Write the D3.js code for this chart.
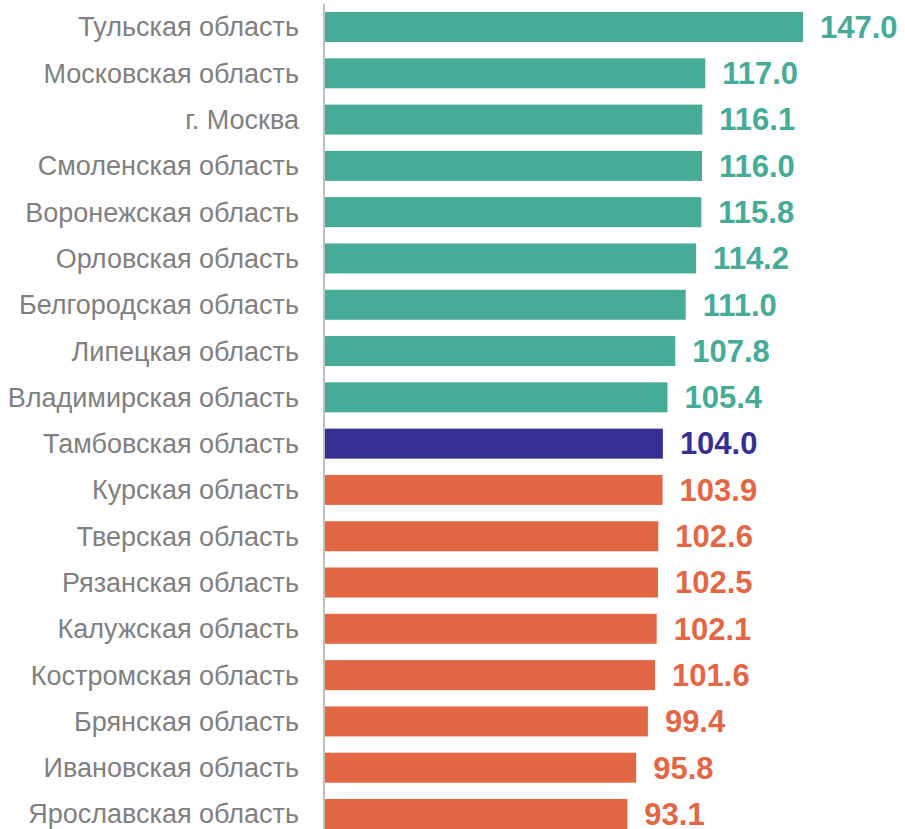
<!DOCTYPE html>
<html>
<head>
<meta charset="utf-8">
<script src="https://cdn.jsdelivr.net/npm/d3@7"></script>
<style>
    html, body { margin: 0; padding: 0; background: #fff; }
    svg { display: block; }
</style>
</head>
<body>
<svg id="chart" width="905" height="829"></svg>
<script>
// Regions and values (top to bottom)
const regions = [
    'Тульская область', 'Московская область', 'г. Москва', 'Смоленская область',
    'Воронежская область', 'Орловская область', 'Белгородская область', 'Липецкая область',
    'Владимирская область', 'Тамбовская область', 'Курская область', 'Тверская область',
    'Рязанская область', 'Калужская область', 'Костромская область', 'Брянская область',
    'Ивановская область', 'Ярославская область'
];
const values = [147.0, 117.0, 116.1, 116.0, 115.8, 114.2, 111.0, 107.8, 105.4,
    104.0, 103.9, 102.6, 102.5, 102.1, 101.6, 99.4, 95.8, 93.1];
const highlight = 'Тамбовская область';

const colors = { above: '#46ab97', self: '#373094', below: '#e46745' };

const data = regions.map((name, i) => ({ name, value: values[i] }));
const ref = values[regions.indexOf(highlight)];

function colorOf(d) {
    if (d.name === highlight) return colors.self;
    return d.value > ref ? colors.above : colors.below;
}

const svg = d3.select('#chart');
const x0 = 324;

const x = d3.scaleLinear().domain([0, 147]).range([x0, 803]);
const y = d3.scaleBand().domain(regions).range([12, 829]).paddingInner(0.352).paddingOuter(0);

// bars
svg.append('g').selectAll('rect')
    .data(data)
    .join('rect')
    .attr('x', x(0))
    .attr('y', d => y(d.name))
    .attr('width', d => x(d.value) - x(0))
    .attr('height', y.bandwidth())
    .attr('fill', colorOf);

// axis line
svg.append('line')
    .attr('x1', x0).attr('x2', x0)
    .attr('y1', 4).attr('y2', 829)
    .attr('stroke', '#bfbfbf')
    .attr('stroke-width', 2);

// category labels
svg.append('g').selectAll('text')
    .data(data)
    .join('text')
    .attr('x', x0 - 25)
    .attr('y', d => y(d.name) + y.bandwidth() / 2)
    .attr('dy', '0.35em')
    .attr('text-anchor', 'end')
    .attr('font-family', "'Liberation Sans', Arial, sans-serif")
    .attr('font-size', 27)
    .attr('fill', '#808080')
    .text(d => d.name);

// value labels
svg.append('g').selectAll('text')
    .data(data)
    .join('text')
    .attr('x', d => x(d.value) + 17)
    .attr('y', d => y(d.name) + y.bandwidth() / 2)
    .attr('dy', '0.35em')
    .attr('font-family', "'Liberation Sans', Arial, sans-serif")
    .attr('font-weight', 'bold')
    .attr('font-size', 31)
    .attr('fill', colorOf)
    .text(d => d3.format('.1f')(d.value));
</script>
</body>
</html>
